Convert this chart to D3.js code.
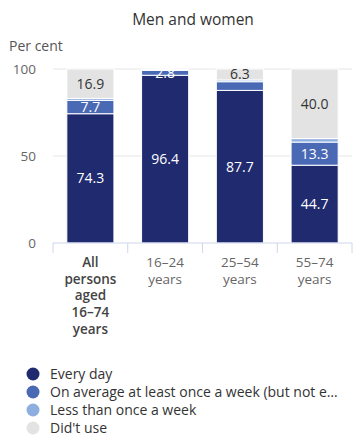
<!DOCTYPE html>
<html>
<head>
<meta charset="utf-8">
<script src="https://cdn.jsdelivr.net/npm/d3@7"></script>
<style>
	body { margin: 0; background: #fff; }
	svg text { font-family: 'Open Sans', sans-serif; }
</style>
</head>
<body>
<div id="chart"></div>
<script>
	'use strict';
	// categories and series (per cent)
	var categories = [['All', 'persons', 'aged', '16\u201374', 'years'], ['16\u201324', 'years'], ['25\u201354', 'years'], ['55\u201374', 'years']];
	var everyDay = [74.3, 96.4, 87.7, 44.7];
	var weekly = [7.7, 2.8, 5.0, 13.3];
	var lessOften = [1.1, 0.4, 1.0, 2.0];
	var didntUse = [16.9, 0.4, 6.3, 40.0];
	var seriesNames = ['Every day', 'On average at least once a week (but not every day)', 'Less than once a week', 'Did\'t use'];
	var yTicks = [0, 50, 100];

	var colors = ['#202a6f', '#4a69b5', '#8eaee0', '#e3e3e3'];
	var width = 364, height = 444;
	var margin = {top: 69, right: 12, bottom: 201, left: 53};
	var innerW = width - margin.left - margin.right;
	var innerH = height - margin.top - margin.bottom;

	var svg = d3.select('#chart')
		.append('svg')
		.attr('width', width)
		.attr('height', height);

	svg.append('text')
		.attr('x', 193)
		.attr('y', 25)
		.attr('text-anchor', 'middle')
		.style('font-size', '15.5px')
		.style('fill', '#333')
		.text('Men and women');

	svg.append('text')
		.attr('x', 9)
		.attr('y', 51)
		.style('font-size', '14px')
		.style('fill', '#555')
		.text('Per cent');

	var g = svg.append('g')
		.attr('transform', 'translate(' + margin.left + ',' + margin.top + ')');

	var x = d3.scaleBand()
		.domain(d3.range(categories.length))
		.range([0, innerW])
		.paddingInner(0.37)
		.paddingOuter(0.185);

	var y = d3.scaleLinear()
		.domain([0, 100])
		.range([innerH, 0]);

	// grid lines
	g.selectAll('.grid')
		.data(yTicks.filter(function (d) { return d > 0; }))
		.enter().append('line')
		.attr('x1', 0)
		.attr('x2', innerW)
		.attr('y1', function (d) { return y(d); })
		.attr('y2', function (d) { return y(d); })
		.attr('stroke', '#e6e6e6')
		.attr('stroke-width', 1);

	// y axis labels
	var yAxis = g.append('g')
		.call(d3.axisLeft(y).tickValues(yTicks).tickSize(0).tickPadding(17));
	yAxis.select('.domain').remove();
	yAxis.selectAll('text')
		.style('font-size', '13.5px')
		.style('fill', '#666')
		.style('font-family', '\'Open Sans\', sans-serif');

	// stacked data
	var rows = categories.map(function (c, i) {
		return {i: i, s0: everyDay[i], s1: weekly[i], s2: lessOften[i], s3: didntUse[i]};
	});
	var stack = d3.stack().keys(['s0', 's1', 's2', 's3']);
	var layers = stack(rows);

	var layerG = g.selectAll('.layer')
		.data(layers)
		.enter().append('g')
		.attr('fill', function (d, i) { return colors[i]; });

	layerG.selectAll('rect')
		.data(function (d) { return d; })
		.enter().append('rect')
		.attr('x', function (d) { return x(d.data.i); })
		.attr('width', x.bandwidth())
		.attr('y', function (d) { return y(d[1]); })
		.attr('height', function (d) { return Math.max(0, y(d[0]) - y(d[1])); })
		.attr('stroke', '#fff')
		.attr('stroke-width', 1);

	// value labels, top series first, lower ones hidden if they collide
	var labelSeries = [3, 1, 0];
	var placed = categories.map(function () { return []; });
	labelSeries.forEach(function (k) {
		g.selectAll('.lbl' + k)
			.data(layers[k].filter(function (d) {
				if (d[1] - d[0] < 1) return false;
				var cy = y((d[0] + d[1]) / 2);
				var hit = placed[d.data.i].some(function (p) { return Math.abs(p - cy) < 14; });
				if (hit) return false;
				placed[d.data.i].push(cy);
				return true;
			}))
			.enter().append('text')
			.attr('x', function (d) { return x(d.data.i) + x.bandwidth() / 2; })
			.attr('y', function (d) { return y((d[0] + d[1]) / 2) + 5; })
			.attr('text-anchor', 'middle')
			.style('font-size', '14px')
			.style('fill', k === 3 ? '#333' : '#fff')
			.text(function (d) { return d3.format('.1f')(d[1] - d[0]); });
	});

	// x axis
	var xAxisG = g.append('g')
		.attr('transform', 'translate(0,' + innerH + ')');
	xAxisG.append('line')
		.attr('x1', 0).attr('x2', innerW)
		.attr('stroke', '#ccd6eb');
	var bounds = d3.range(categories.length + 1).map(function (i) { return i * innerW / categories.length; });
	xAxisG.selectAll('.tick')
		.data(bounds)
		.enter().append('line')
		.attr('x1', function (d) { return d; })
		.attr('x2', function (d) { return d; })
		.attr('y1', 0).attr('y2', 10)
		.attr('stroke', '#ccd6eb');

	xAxisG.selectAll('.cat')
		.data(categories)
		.enter().append('text')
		.attr('x', function (d, i) { return x(i) + x.bandwidth() / 2; })
		.attr('y', 24)
		.attr('text-anchor', 'middle')
		.style('font-size', '13.5px')
		.style('font-weight', function (d, i) { return i === 0 ? 600 : 400; })
		.style('fill', function (d, i) { return i === 0 ? '#444' : '#666'; })
		.each(function (d) {
			var t = d3.select(this);
			d.forEach(function (line, j) {
				t.append('tspan')
					.attr('x', t.attr('x'))
					.attr('dy', j === 0 ? 0 : 16.7)
					.text(line);
			});
		});

	// legend
	var legend = svg.append('g')
		.attr('transform', 'translate(33,374)');
	var items = legend.selectAll('g')
		.data(seriesNames)
		.enter().append('g')
		.attr('transform', function (d, i) { return 'translate(0,' + (i * 18) + ')'; });
	items.append('circle')
		.attr('r', 6.5)
		.attr('fill', function (d, i) { return colors[i]; });
	items.append('text')
		.attr('x', 17)
		.attr('y', 5)
		.style('font-size', '14px')
		.style('fill', '#333')
		.each(function (d) {
			var t = d3.select(this);
			t.text(d);
			var maxW = 364 - 33 - 17 - 22;
			var s = d;
			while (this.getComputedTextLength() > maxW && s.length > 1) {
				s = s.slice(0, -1);
				t.text(s.replace(/\s+$/, '') + '\u2026');
			}
		});
</script>
</body>
</html>
